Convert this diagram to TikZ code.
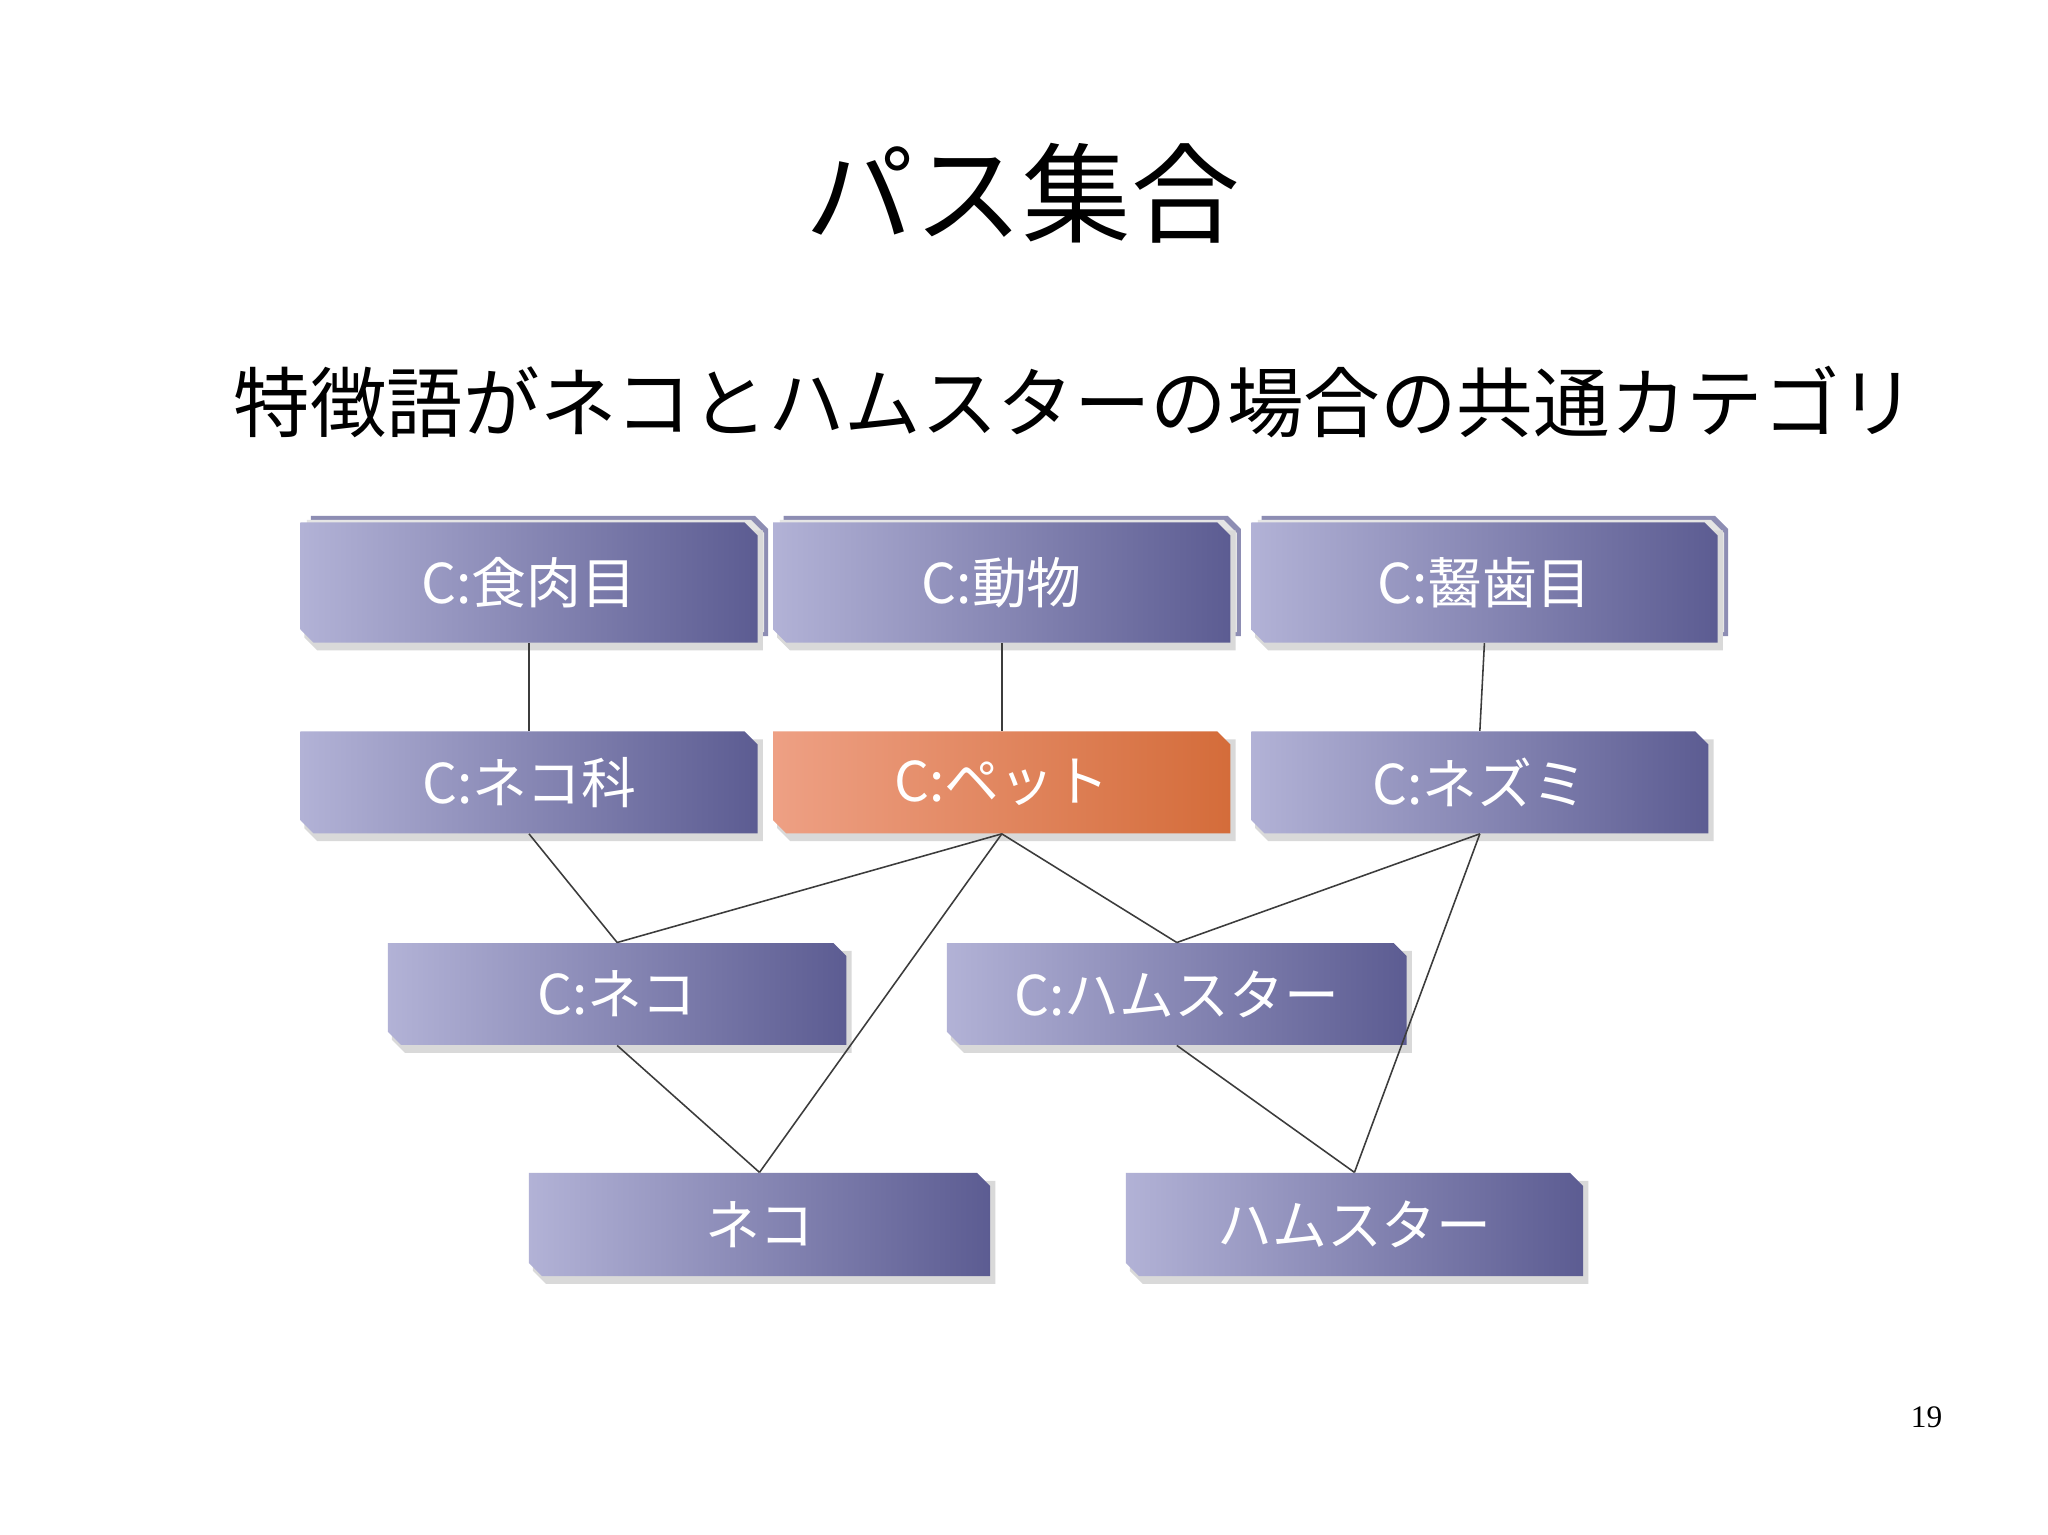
\documentclass[tikz,border=0pt]{standalone}
\usepackage{fontspec}
\newfontfamily\cjk{Noto Sans CJK JP}
\setmainfont{Liberation Serif}
\definecolor{bl}{RGB}{178,178,214}
\definecolor{br}{RGB}{92,92,146}
\definecolor{ol}{RGB}{238,160,132}
\definecolor{or}{RGB}{212,108,58}
\definecolor{edge}{RGB}{60,60,60}
\tikzset{boxtext/.style={inner sep=0pt,text=white,font=\cjk\fontsize{21}{24}\selectfont},
 conn/.style={draw=edge,line width=0.6pt}}
\newcommand\cbox[8]{%
 \ifnum#8=1
 \fill[br!70] ({#2+8},{#3-5}) -- ({#4-2},{#3-5}) -- ({#4+8},{#3+5}) -- ({#4+8},{#5-5}) -- ({#2+18},{#5-5}) -- ({#2+8},{#5-15}) -- cycle;
 \fill[white!80!gray] ({#2+5},{#3-2}) -- ({#4-5},{#3-2}) -- ({#4+5},{#3+8}) -- ({#4+5},{#5-8}) -- ({#2+15},{#5-8}) -- ({#2+5},{#5-18}) -- cycle;
 \fi
 \fill[gray!30] ({#2+3},{#3+6}) -- ({#4+4},{#3+6}) -- ({#4+4},{#5+6}) -- ({#2+13},{#5+6}) -- ({#2+3},{#5-4}) -- cycle;
 \shade[left color=#6,right color=#7] (#2,#3) -- ({#4-10},#3) -- (#4,{#3+10}) -- (#4,#5) -- ({#2+10},#5) -- (#2,{#5-10}) -- cycle;
 \node[boxtext,minimum width={(#4-#2)*0.5pt},minimum height={(#5-#3)*0.5pt}] (#1) at ({(#2+#4)/2},{(#3+#5)/2}) {};
}
\begin{document}
\begin{tikzpicture}[x=0.5pt,y=-0.5pt]
\useasboundingbox[fill=white] (0,0) rectangle (1568,1175);
\node[font=\cjk\fontsize{41.5}{48}\selectfont] (title) at (783,148) {パス集合};
\node[font=\cjk\fontsize{29.3}{34}\selectfont,anchor=west] (sub) at (172,308) {特徴語がネコとハムスターの場合の共通カテゴリ};
\node[font=\fontsize{12}{14}\selectfont] (pg) at (1475,1085) {19};
% boxes
\cbox{a}{230}{400}{580}{492}{bl}{br}{1}
\cbox{b}{592}{400}{942}{492}{bl}{br}{1}
\cbox{c}{958}{400}{1315}{492}{bl}{br}{1}
\cbox{d}{230}{560}{580}{638}{bl}{br}{0}
\cbox{e}{592}{560}{942}{638}{ol}{or}{0}
\cbox{f}{958}{560}{1308}{638}{bl}{br}{0}
\cbox{g}{297}{722}{648}{800}{bl}{br}{0}
\cbox{h}{725}{722}{1077}{800}{bl}{br}{0}
\cbox{i}{405}{898}{758}{977}{bl}{br}{0}
\cbox{j}{862}{898}{1212}{977}{bl}{br}{0}
% connectors
\draw[conn] (a.south) -- (d.north);
\draw[conn] (b.south) -- (e.north);
\draw[conn] (c.south) -- (f.north);
\draw[conn] (d.south) -- (g.north);
\draw[conn] (e.south) -- (g.north);
\draw[conn] (e.south) -- (h.north);
\draw[conn] (f.south) -- (h.north);
\draw[conn] (f.south) -- (j.north);
\draw[conn] (e.south) -- (i.north);
\draw[conn] (g.south) -- (i.north);
\draw[conn] (h.south) -- (j.north);
% labels
\node[boxtext] at (a) {C:食肉目};
\node[boxtext] at (b) {C:動物};
\node[boxtext] at (c) {C:齧歯目};
\node[boxtext] at (d) {C:ネコ科};
\node[boxtext] at (e) {C:ペット};
\node[boxtext] at (f) {C:ネズミ};
\node[boxtext] at (g) {C:ネコ};
\node[boxtext] at (h) {C:ハムスター};
\node[boxtext] at (i) {ネコ};
\node[boxtext] at (j) {ハムスター};
\end{tikzpicture}
\end{document}
